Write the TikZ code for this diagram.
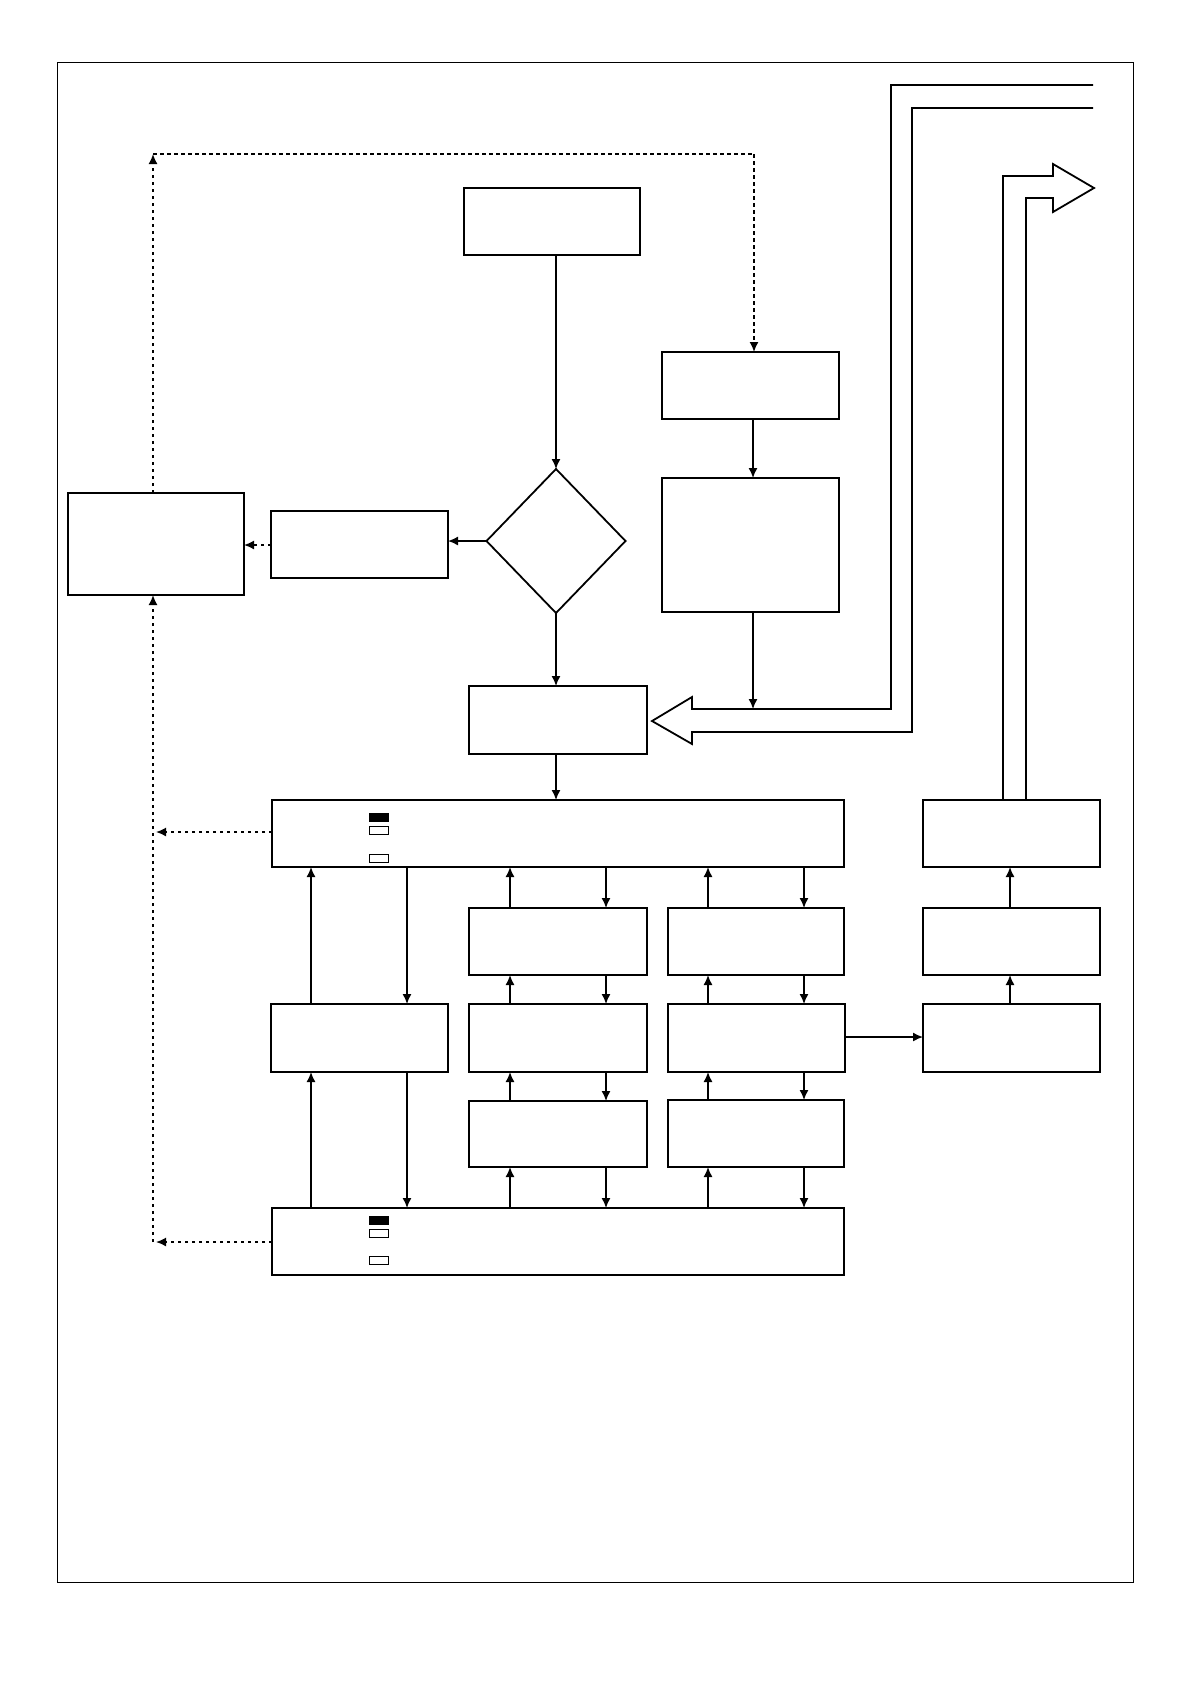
\documentclass[tikz,border=0pt]{standalone}
\usetikzlibrary{shapes.geometric,arrows.meta}
\begin{document}
\begin{tikzpicture}[x=1pt,y=-1pt,
  box/.style={draw,line width=1.8pt,inner sep=0pt,outer sep=0pt,anchor=north west},
  mark box/.style={draw,line width=1pt,inner sep=0pt,outer sep=0pt,anchor=north west,minimum width=19pt,minimum height=8.5pt},
  arr/.style={line width=1.5pt,-{Latex[length=10pt,width=9pt]}},
  dotl/.style={line width=1.6pt,dash pattern=on 3.5pt off 3.5pt},
  darr/.style={dotl,-{Latex[length=10pt,width=9pt]}},
  fat/.style={line width=1.8pt,line join=miter}]
\useasboundingbox (0,0) rectangle (1190,1684);
\draw[line width=0.9pt] (57,62) rectangle (1133,1582);
\newcommand{\bx}[5]{\node[box,minimum width=#4pt,minimum height=#5pt] (#1) at (#2,#3) {};}
% boxes
\bx{top}{464}{188}{176}{67}
\bx{B}{662}{352}{177}{67}
\bx{C}{662}{478}{177}{134}
\bx{D}{271}{511}{177}{67}
\bx{E}{68}{493}{176}{102}
\bx{F}{469}{686}{178}{68}
\bx{G}{272}{800}{572}{67}
\bx{H}{272}{1208}{572}{67}
\bx{Ra}{469}{908}{178}{67}
\bx{Rb}{668}{908}{176}{67}
\bx{Sa}{271}{1004}{177}{68}
\bx{Sb}{469}{1004}{178}{68}
\bx{Sc}{668}{1004}{177}{68}
\bx{Ta}{469}{1101}{178}{66}
\bx{Tb}{668}{1100}{176}{67}
\bx{K1}{923}{800}{177}{67}
\bx{K2}{923}{908}{177}{67}
\bx{K3}{923}{1004}{177}{68}
\node[draw,diamond,line width=1.8pt,inner sep=0pt,outer sep=0pt,minimum width=139pt,minimum height=144pt] (dia) at (556,541) {};
% small marks
\node[mark box,fill=black] (g1) at (369,813) {};
\node[mark box] (g2) at (369,826) {};
\node[mark box] (g3) at (369,854) {};
\node[mark box,fill=black] (h1) at (369,1216) {};
\node[mark box] (h2) at (369,1229) {};
\node[mark box] (h3) at (369,1256) {};
% column coordinates
\coordinate (x0) at (556,0);
\coordinate (xb) at (753,0);
\coordinate (u1) at (311,0);
\coordinate (d1) at (407,0);
\coordinate (u2) at (510,0);
\coordinate (d2) at (606,0);
\coordinate (u3) at (708,0);
\coordinate (d3) at (804,0);
\coordinate (xl) at (153,0);
\coordinate (corner) at (153,154);
\coordinate (cornerR) at (754,154);
\coordinate (lowL) at (153,1242);
\coordinate (bigin) at (753,709);
\coordinate (xk) at (1010,0);
% main flow
\draw[arr] (top.south -| x0) -- (dia.north);
\draw[arr] (dia.south) -- (F.north -| x0);
\draw[arr] (dia.west) -- (D.east |- dia.west);
\draw[darr] (D.west |- 0,545) -- (E.east |- 0,545);
\draw[arr] (F.south -| x0) -- (G.north -| x0);
\draw[arr] (B.south -| xb) -- (C.north -| xb);
\draw[arr] (C.south -| xb) -- (bigin);
% dotted loop
\draw[darr] (E.north -| xl) -- (corner);
\draw[dotl] (corner) -- (cornerR);
\draw[darr] (cornerR) -- (B.north -| cornerR);
\draw[darr] (G.west |- 0,832) -- (156,832);
\draw[darr] (H.west |- lowL) -- (156,1242);
\draw[darr] (lowL) -- (E.south -| xl);
% left column
\draw[arr] (Sa.north -| u1) -- (G.south -| u1);
\draw[arr] (G.south -| d1) -- (Sa.north -| d1);
\draw[arr] (H.north -| u1) -- (Sa.south -| u1);
\draw[arr] (Sa.south -| d1) -- (H.north -| d1);
% column 2
\draw[arr] (Ra.north -| u2) -- (G.south -| u2);
\draw[arr] (G.south -| d2) -- (Ra.north -| d2);
\draw[arr] (Sb.north -| u2) -- (Ra.south -| u2);
\draw[arr] (Ra.south -| d2) -- (Sb.north -| d2);
\draw[arr] (Ta.north -| u2) -- (Sb.south -| u2);
\draw[arr] (Sb.south -| d2) -- (Ta.north -| d2);
\draw[arr] (H.north -| u2) -- (Ta.south -| u2);
\draw[arr] (Ta.south -| d2) -- (H.north -| d2);
% column 3
\draw[arr] (Rb.north -| u3) -- (G.south -| u3);
\draw[arr] (G.south -| d3) -- (Rb.north -| d3);
\draw[arr] (Sc.north -| u3) -- (Rb.south -| u3);
\draw[arr] (Rb.south -| d3) -- (Sc.north -| d3);
\draw[arr] (Tb.north -| u3) -- (Sc.south -| u3);
\draw[arr] (Sc.south -| d3) -- (Tb.north -| d3);
\draw[arr] (H.north -| u3) -- (Tb.south -| u3);
\draw[arr] (Tb.south -| d3) -- (H.north -| d3);
% right column
\draw[arr] (Sc.east |- 0,1037) -- (K3.west |- 0,1037);
\draw[arr] (K3.north -| xk) -- (K2.south -| xk);
\draw[arr] (K2.north -| xk) -- (K1.south -| xk);
% big hollow arrows
\draw[fat] (1093,85) -- (891,85) -- (891,709) -- (692,709) -- (692,697) -- (652,721)
  -- (692,744) -- (692,732) -- (912,732) -- (912,108) -- (1093,108);
\draw[fat] (K1.north -| 1003,0) -- (1003,176) -- (1053,176) -- (1053,164) -- (1094,188)
  -- (1053,212) -- (1053,198) -- (1026,198) -- (K1.north -| 1026,0);
\end{tikzpicture}
\end{document}
